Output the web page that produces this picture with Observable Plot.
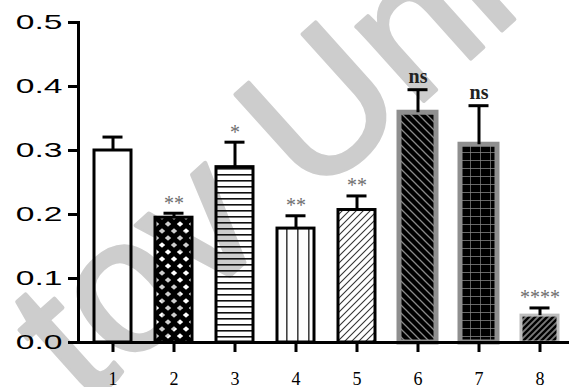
<!DOCTYPE html>
<html>
<head>
<meta charset="utf-8">
<script src="https://cdn.jsdelivr.net/npm/d3@7"></script>
<script src="https://cdn.jsdelivr.net/npm/@observablehq/plot@0.6"></script>
<style>
  html, body { margin: 0; padding: 0; background: #fff; overflow: hidden; }
</style>
</head>
<body>
<!-- hatch fills shared by the bars -->
<svg width="0" height="0" style="position:absolute">
  <defs>
    <pattern id="fill-diamond" patternUnits="userSpaceOnUse" width="12" height="14">
      <path fill="#000" fill-rule="evenodd"
        d="M0 0H12V14H0Z
           M6 4.2L9.2 7L6 9.8L2.8 7Z
           M0 -2.8L3.2 0L0 2.8L-3.2 0Z M12 -2.8L15.2 0L12 2.8L8.8 0Z
           M0 11.2L3.2 14L0 16.8L-3.2 14Z M12 11.2L15.2 14L12 16.8L8.8 14Z"/>
    </pattern>
    <pattern id="fill-hlines" patternUnits="userSpaceOnUse" width="6" height="6">
      <rect y="0" width="6" height="1.6" fill="#111"/>
    </pattern>
    <pattern id="fill-vlines" patternUnits="userSpaceOnUse" width="11" height="10">
      <rect x="0" width="1.6" height="10" fill="#444"/>
    </pattern>
    <pattern id="fill-diag" patternUnits="userSpaceOnUse" width="7" height="7">
      <path d="M0 7L7 0M-3.5 3.5L3.5 -3.5M3.5 10.5L10.5 3.5" stroke="#333" stroke-width="1.1"/>
    </pattern>
    <pattern id="fill-dark-diag" patternUnits="userSpaceOnUse" width="8" height="8">
      <rect width="8" height="8" fill="#000"/>
      <path d="M0 0L8 8M-4 4L4 12M4 -4L12 4" stroke="#8a8a8a" stroke-width="1.3"/>
    </pattern>
    <pattern id="fill-grid" patternUnits="userSpaceOnUse" width="10" height="8">
      <rect width="10" height="8" fill="#000"/>
      <path d="M0 0V8M0 0H10" stroke="#8a8a8a" stroke-width="1.4"/>
    </pattern>
    <pattern id="fill-dense-diag" patternUnits="userSpaceOnUse" width="6" height="6">
      <rect width="6" height="6" fill="#7a7a7a"/>
      <path d="M0 6L6 0M-3 3L3 -3M3 9L9 3" stroke="#000" stroke-width="2.4"/>
    </pattern>
  </defs>
</svg>
<div id="chart"></div>
<script>
// Group means, upper error (SEM) and significance marks
const groups  = ["1", "2", "3", "4", "5", "6", "7", "8"];
const means   = [0.300, 0.195, 0.274, 0.178, 0.207, 0.359, 0.309, 0.042];
const errors  = [0.021, 0.007, 0.039, 0.020, 0.022, 0.036, 0.061, 0.012];
const signif  = ["", "**", "*", "**", "**", "ns", "ns", "****"];
const yTicks  = [0, 0.1, 0.2, 0.3, 0.4, 0.5];
const watermark = "tov Uni";

// Per-bar look: hatch fill, outline colour and outline width
const fills   = ["none", "url(#fill-diamond)", "url(#fill-hlines)", "url(#fill-vlines)",
                 "url(#fill-diag)", "url(#fill-dark-diag)", "url(#fill-grid)", "url(#fill-dense-diag)"];
const strokes = ["#000", "#000", "#000", "#000", "#000", "#8f8f8f", "#8f8f8f", "#bdbdbd"];
const widths  = [3, 3, 3, 3, 3, 5, 5, 3];

const rows = groups.map((g, i) => ({
  group: g, mean: means[i], top: means[i] + errors[i], sig: signif[i],
  fill: fills[i], stroke: strokes[i], sw: widths[i]
}));
const stars = rows.filter(d => d.sig.startsWith("*"));
const ns = rows.filter(d => d.sig === "ns");

const chart = Plot.plot({
  width: 569,
  height: 387,
  marginTop: 22,
  marginBottom: 45,
  marginLeft: 78,
  marginRight: 0,
  style: { fontFamily: "Liberation Sans", fontSize: "21px", color: "#000", background: "#fff" },
  x: { domain: groups, range: [66, 586], padding: 0.39, label: null },
  y: { domain: [0, 0.5], label: null },
  color: { type: "identity" },
  marks: [
    Plot.text([watermark], {
      text: d => d, frameAnchor: "bottom-left", dx: 6, dy: 64, rotate: -42,
      textAnchor: "start", lineAnchor: "bottom",
      fontSize: 190, fontFamily: "Liberation Sans", fill: "#cdcdcd",
      stroke: "#cdcdcd", strokeWidth: 4
    }),
    Plot.barY(rows, { x: "group", y: "mean", fill: "fill", stroke: "stroke", strokeWidth: "sw" }),
    Plot.ruleX(rows, { x: "group", y1: "mean", y2: "top", stroke: "#000", strokeWidth: 3 }),
    Plot.tickY(rows, { x: "group", y: "top", stroke: "#000", strokeWidth: 3, insetLeft: 8.5, insetRight: 8.5 }),
    Plot.text(stars, {
      x: "group", y: "top", text: "sig", dy: -10, lineAnchor: "middle",
      fontFamily: "Liberation Serif", fontSize: 20, letterSpacing: 2, fill: "#6e6e6e"
    }),
    Plot.text(ns, {
      x: "group", y: "top", text: "sig", dy: -13, lineAnchor: "middle",
      fontFamily: "Liberation Serif", fontSize: 20, fontWeight: "bold", fill: "#222"
    }),
    Plot.axisY({ ticks: yTicks, tickFormat: d3.format(".1f"), tickSize: 10, tickPadding: 6,
                 strokeWidth: 3, label: null, fontSize: 21 }),
    Plot.axisX({ tickSize: 10, tickPadding: 20, strokeWidth: 3, label: null,
                 fontFamily: "Liberation Serif", fontSize: 18 }),
    Plot.frame({ anchor: "left", strokeWidth: 3, stroke: "#000" }),
    Plot.ruleY([0], { strokeWidth: 3, stroke: "#000", insetLeft: -10 })
  ]
});

// widen the y tick labels horizontally, as in the printed figure
chart.querySelectorAll('g[aria-label="y-axis tick label"] text').forEach(t => {
  const tr = t.getAttribute("transform") || "";
  const x = +t.getAttribute("x") || 0, y = +t.getAttribute("y") || 0;
  t.setAttribute("transform", `${tr} translate(${x},${y}) scale(1.6,1) translate(${-x},${-y})`);
});

document.getElementById("chart").appendChild(chart);
</script>
</body>
</html>
